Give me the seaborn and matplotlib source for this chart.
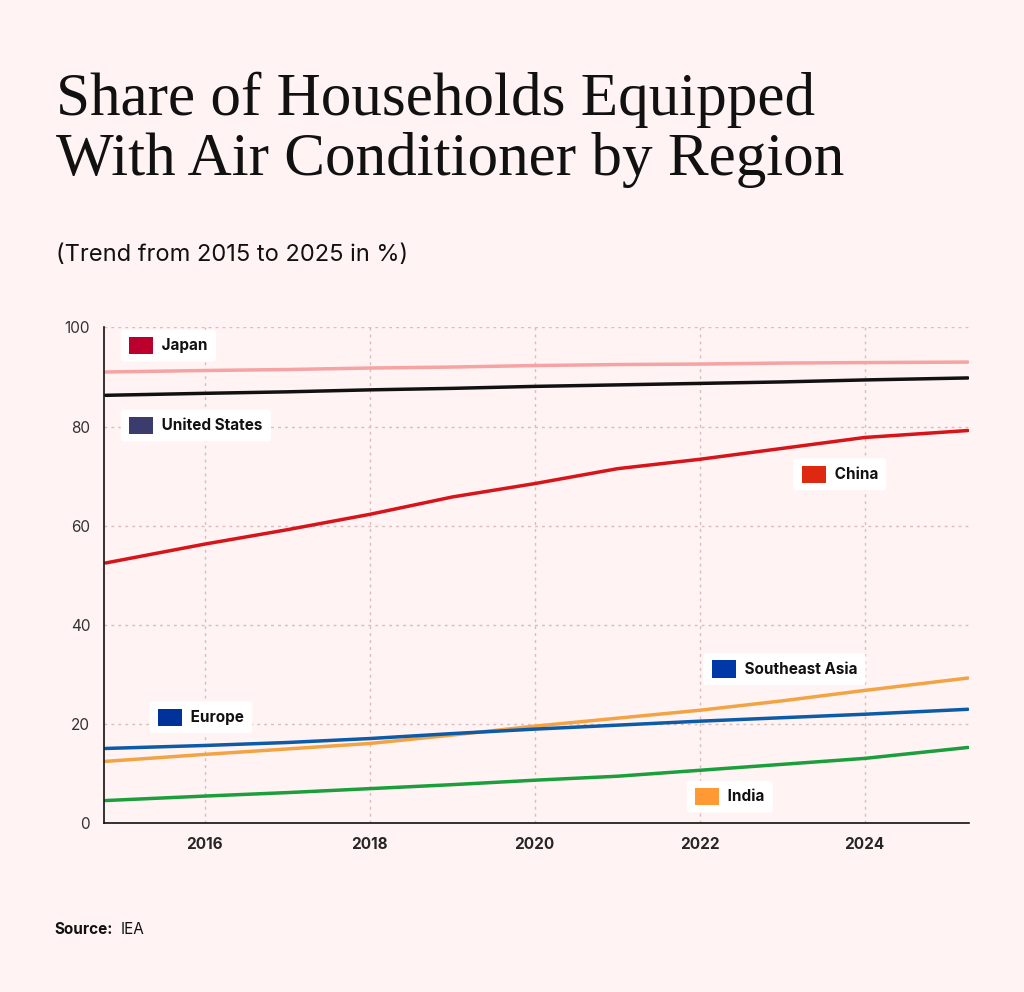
import matplotlib
matplotlib.use("Agg")
import matplotlib.pyplot as plt
import seaborn as sns
import pandas as pd

years = [2014.8, 2016, 2017, 2018, 2019, 2020, 2021, 2022, 2023, 2024, 2025.25]
japan = [91.0, 91.3, 91.5, 91.8, 92.0, 92.3, 92.5, 92.6, 92.8, 92.9, 93.0]
usa = [86.3, 86.7, 87.0, 87.4, 87.7, 88.1, 88.4, 88.7, 89.0, 89.4, 89.8]
china = [52.5, 56.3, 59.2, 62.3, 65.8, 68.5, 71.5, 73.4, 75.6, 77.8, 79.2]
se_asia = [12.5, 13.9, 15.0, 16.1, 17.8, 19.6, 21.2, 22.8, 24.7, 26.8, 29.3]
europe = [15.1, 15.7, 16.3, 17.1, 18.1, 19.0, 19.8, 20.6, 21.3, 22.0, 23.0]
india = [4.6, 5.5, 6.2, 7.0, 7.8, 8.7, 9.5, 10.7, 11.9, 13.1, 15.3]

series = {"Japan": japan, "United States": usa, "China": china,
          "Southeast Asia": se_asia, "Europe": europe, "India": india}
colors = {"Japan": "#f5a3a3", "United States": "#111111", "China": "#d7141a",
          "Southeast Asia": "#f2a444", "Europe": "#0d5aa7", "India": "#1b9e3c"}
# label box left edge (year, value) and flag colour
labels = {"Japan": (2015.0, 96.3, "#bc002d"), "United States": (2015.0, 80.2, "#3c3b6e"),
          "China": (2023.15, 70.4, "#de2910"), "Southeast Asia": (2022.06, 31.1, "#0038a8"),
          "Europe": (2015.35, 21.4, "#003399"), "India": (2021.86, 5.4, "#ff9933")}

df = pd.DataFrame([(r, y, v) for r, vals in series.items() for y, v in zip(years, vals)],
                  columns=["region", "year", "value"])

bg = "#fff3f3"
sns.set_theme(style="white")
plt.rcParams["font.family"] = ["Inter", "DejaVu Sans"]

fig = plt.figure(figsize=(10.24, 9.92), dpi=100, facecolor=bg)
ax = fig.add_axes([0.1016, 0.170, 0.8444, 0.500], facecolor=bg)

sns.lineplot(data=df, x="year", y="value", hue="region", palette=colors,
             linewidth=2.5, legend=False, ax=ax)

ax.set_xlim(2014.78, 2025.26)
ax.set_ylim(0, 100)
ax.set_xticks([2016, 2018, 2020, 2022, 2024])
ax.set_yticks(range(0, 101, 20))
ax.tick_params(axis="x", labelsize=11, length=0, pad=10)
ax.tick_params(axis="y", labelsize=11, length=0, pad=10, labelcolor="#333333")
for t in ax.get_xticklabels():
    t.set_fontweight("bold")
ax.set_xlabel("")
ax.set_ylabel("")
ax.grid(True, color="#d9bcbc", linestyle=(0, (2, 3)), linewidth=1)
for s in ["top", "right"]:
    ax.spines[s].set_visible(False)
for s in ["left", "bottom"]:
    ax.spines[s].set_color("#111111")
    ax.spines[s].set_linewidth(1.2)

for name, (x, y, fc) in labels.items():
    ax.annotate("         " + name, (x, y), xytext=(5, 0), textcoords="offset points",
                fontsize=11, fontweight="bold", va="center", ha="left", color="#111111",
                bbox=dict(boxstyle="round,pad=0.55,rounding_size=0.2", fc="white", ec="none"))
    ax.annotate("     ", (x, y), xytext=(7, 0), textcoords="offset points",
                fontsize=9.5, va="center", ha="left",
                bbox=dict(boxstyle="square,pad=0.2", fc=fc, ec="none"))

fig.text(0.055, 0.810, "Share of Households Equipped\nWith Air Conditioner by Region",
         family="Liberation Serif", fontsize=44, color="#111111", va="bottom", linespacing=1.1)
fig.text(0.055, 0.737, "(Trend from 2015 to 2025 in %)", fontsize=17, color="#111111")
fig.text(0.053, 0.058, "Source:", fontsize=11, fontweight="bold", color="#111111")
fig.text(0.118, 0.058, "IEA", fontsize=11, color="#111111")

fig.savefig("out.png", dpi=100, facecolor=bg)
